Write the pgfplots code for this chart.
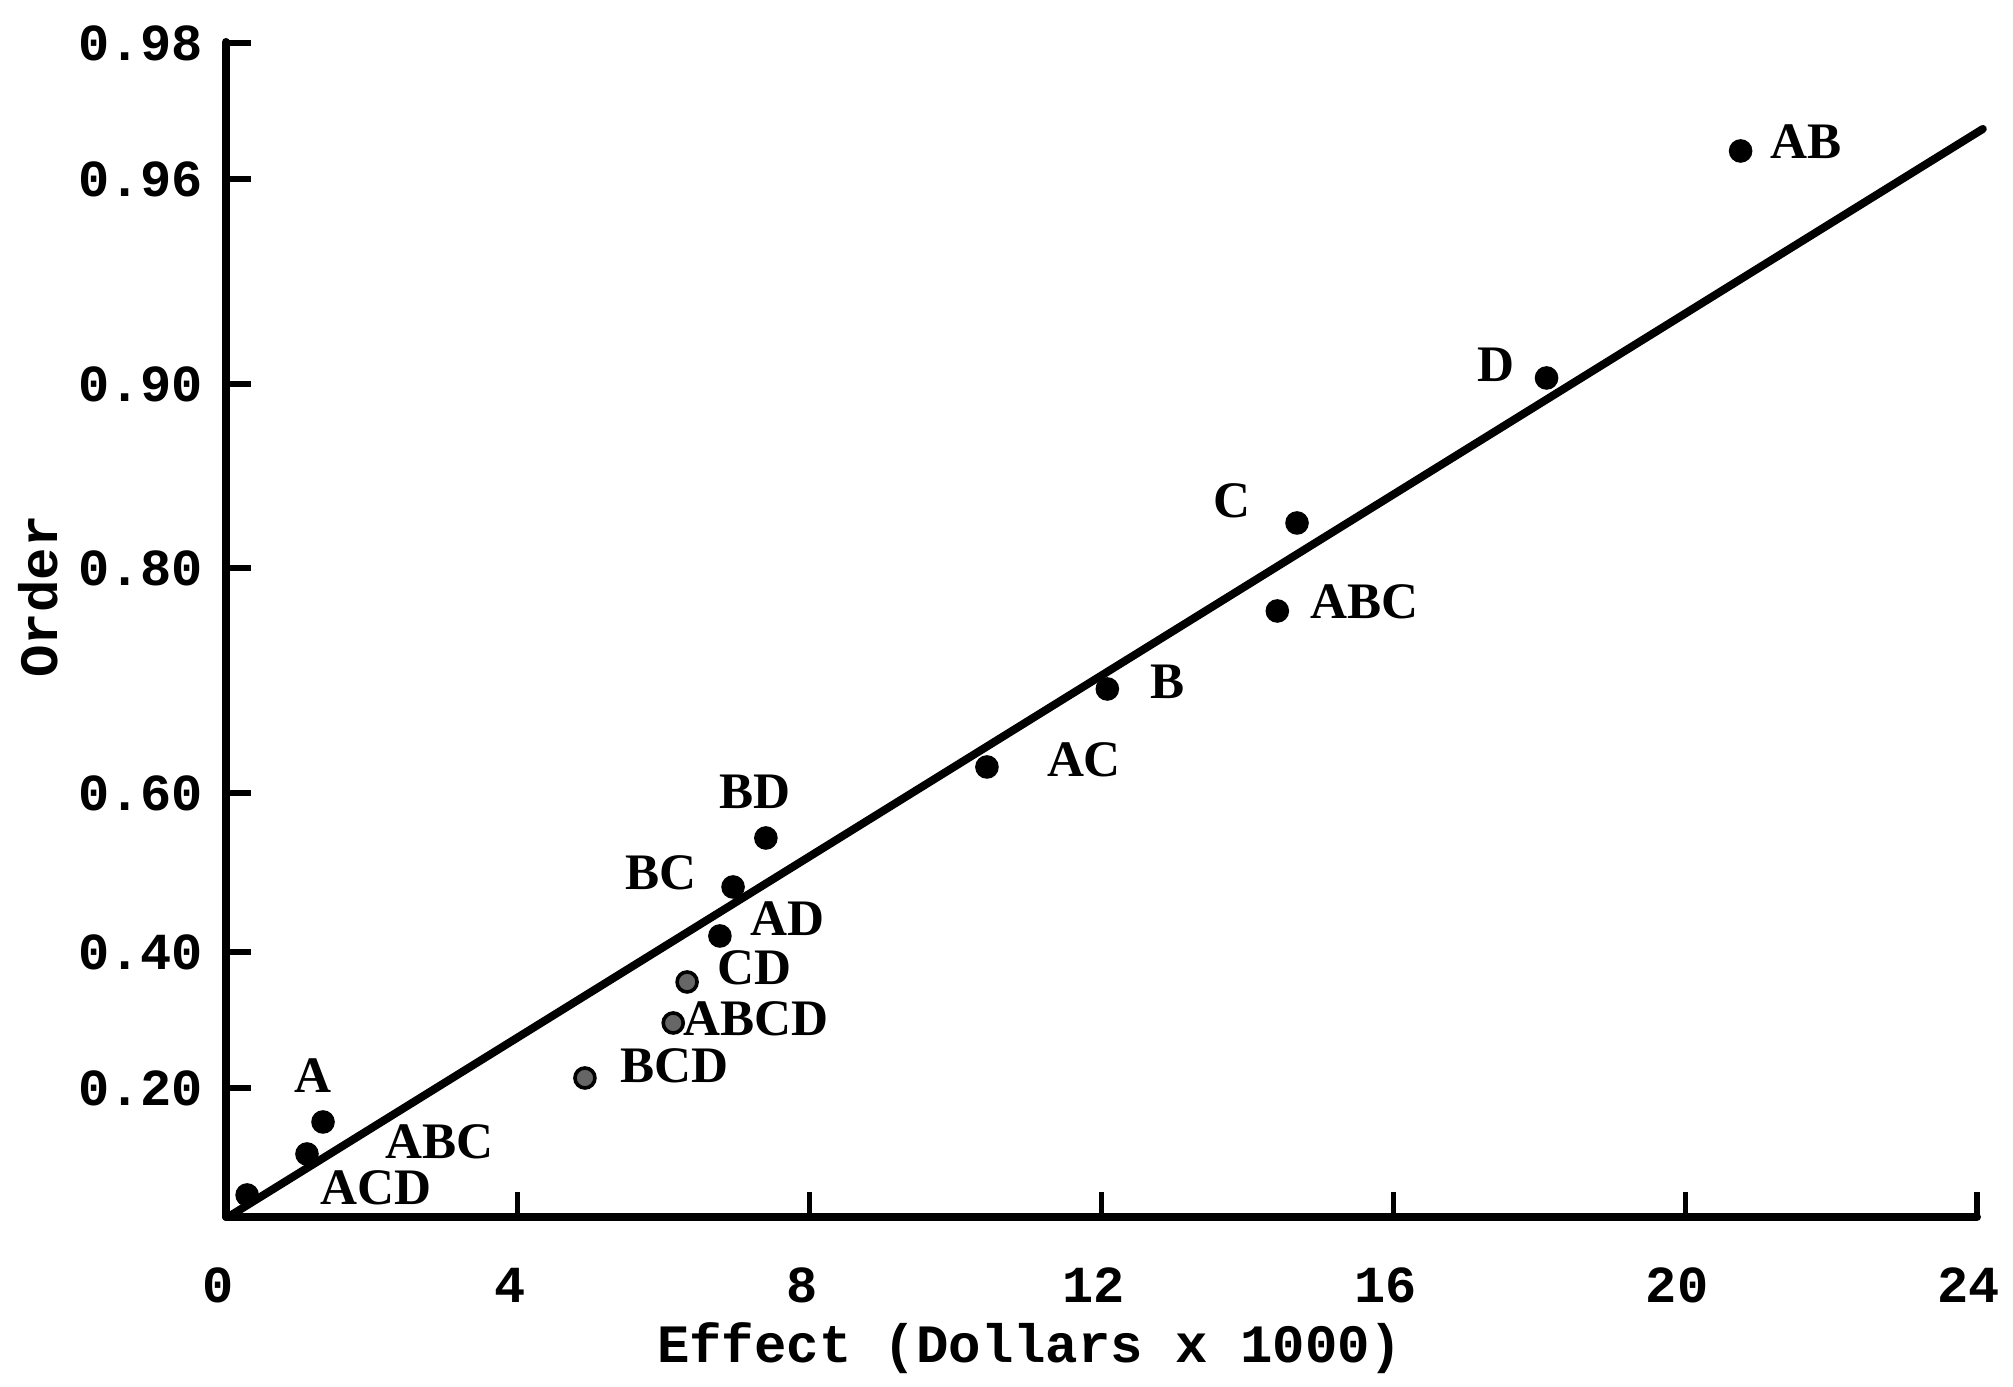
\documentclass[border=0pt]{standalone}
\usepackage{fontspec}
\setmainfont{Liberation Serif}
\setmonofont{Liberation Mono}
\usepackage{pgfplots}
\pgfplotsset{compat=1.18}
\tikzset{lbl/.style={font=\fontsize{12.8}{12.8}\selectfont\bfseries, inner sep=0pt, anchor=center}}
\begin{document}
\begin{tikzpicture}
\useasboundingbox (-56.5pt,-42.5pt) rectangle (446.75pt,304.25pt);
\begin{axis}[
  at={(0pt,0pt)}, anchor=south west, scale only axis,
  width=437.75pt, height=293.75pt,
  xmin=0, xmax=24, ymin=0, ymax=1175,
  axis lines=left, axis line style={-, line width=2pt, line cap=round},
  xtick={0,4,8,12,16,20,24}, xticklabels={0,4,8,12,16,20,24},
  ytick={129,265,424,649,833,1038,1174},
  yticklabels={0.20,0.40,0.60,0.80,0.90,0.96,0.98},
  tick align=inside, major tick length=6.2pt,
  tick style={line width=1.3pt, black},
  ticklabel style={font=\fontsize{13}{13}\selectfont\ttfamily\bfseries},
  yticklabel style={anchor=east, inner sep=0pt, xshift=-5.5pt},
  xticklabel style={anchor=north, inner sep=0pt, yshift=-12.5pt, xshift=-2pt},
  xlabel={Effect (Dollars x 1000)},
  ylabel={Order},
  label style={font=\fontsize{13.5}{13.5}\selectfont\ttfamily\bfseries},
  xlabel style={at={(axis description cs:0.459,-0.1115)}, anchor=center},
  ylabel style={at={(axis description cs:-0.1074,0.528)}, anchor=center},
  clip=false,
]
% fitted line
\addplot[black, line width=2pt, line cap=round] coordinates {(0.03,0) (24.08,1088)};
% black points
\addplot[only marks, mark=*, mark size=2.75pt, black] coordinates {
  (0.29,22) (1.11,63) (1.33,95) (6.77,281) (6.95,330) (7.40,379)
  (10.43,450) (12.08,528) (14.41,606) (14.68,694) (18.10,839) (20.76,1066)
};
% grey stippled points
\addplot[only marks, mark=*, mark size=2.5pt,
  mark options={draw=black, fill=gray!80!black, line width=0.9pt}] coordinates {
  (4.92,139) (6.13,194) (6.32,235)
};
\node[lbl] at (axis cs:2.06,29) {ACD};
\node[lbl] at (axis cs:2.93,75) {ABC};
\node[lbl] at (axis cs:1.19,141) {A};
\node[lbl] at (axis cs:6.15,151) {BCD};
\node[lbl] at (axis cs:7.26,198) {ABCD};
\node[lbl] at (axis cs:7.24,249) {CD};
\node[lbl] at (axis cs:7.69,298) {AD};
\node[lbl] at (axis cs:5.96,344) {BC};
\node[lbl] at (axis cs:7.25,425) {BD};
\node[lbl] at (axis cs:11.76,457) {AC};
\node[lbl] at (axis cs:12.91,535) {B};
\node[lbl] at (axis cs:15.61,615) {ABC};
\node[lbl] at (axis cs:13.79,716) {C};
\node[lbl] at (axis cs:17.41,852) {D};
\node[lbl] at (axis cs:21.66,1075) {AB};
\end{axis}
\end{tikzpicture}
\end{document}
